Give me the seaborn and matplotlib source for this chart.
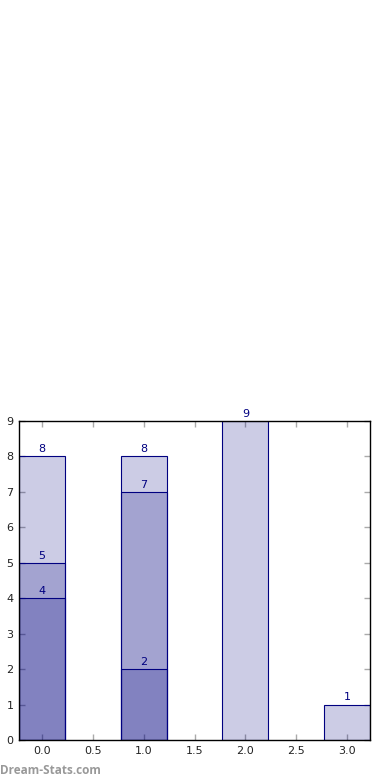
import matplotlib
matplotlib.use("Agg")
import matplotlib.pyplot as plt
import seaborn as sns
import pandas as pd

# Data
positions_a = [0, 1, 2, 3]
values_a = [8, 8, 9, 1]
positions_b = [0, 1]
values_b = [5, 7]
positions_c = [0, 1]
values_c = [4, 2]
x_ticks = [0.0, 0.5, 1.0, 1.5, 2.0, 2.5, 3.0]
y_ticks = list(range(0, 10))

sns.set_style("white")
plt.rcParams['font.family'] = ['DejaVu Sans']

fig = plt.figure(figsize=(3.9, 7.8), dpi=100)
ax = fig.add_axes([19/390, 40/780, 351/390, 319/780])

layers = [(positions_a, values_a), (positions_b, values_b), (positions_c, values_c)]
for pos, vals in layers:
    df = pd.DataFrame({"x": pos, "y": vals})
    sns.barplot(data=df, x="x", y="y", native_scale=True, width=0.45,
                color="navy", saturation=1, ax=ax, errorbar=None)
    for p_, v in zip(pos, vals):
        ax.text(p_, v + 0.06, str(v), ha="center", va="bottom", color="navy", fontsize=8)

for p in ax.patches:
    p.set_facecolor((0, 0, 0.5, 0.2))
    p.set_edgecolor("navy")
    p.set_linewidth(0.8)

ax.set_xlim(-0.225, 3.225)
ax.set_ylim(0, 9)
ax.set_xticks(x_ticks)
ax.set_xticklabels([f"{t:.1f}" for t in x_ticks])
ax.set_yticks(y_ticks)
ax.set_xlabel("")
ax.set_ylabel("")
ax.tick_params(direction="in", length=4, width=1, color="#aaaaaa",
               labelsize=8, labelcolor="#222222", top=True, right=True,
               bottom=True, left=True, pad=4)
for s in ax.spines.values():
    s.set_color("black")
    s.set_linewidth(1.0)
    s.set_visible(True)

fig.text(0.0, 1 - 770/780, "Dream-Stats.com", color="#999999", fontsize=8.5,
         fontweight="bold", family=["Open Sans", "DejaVu Sans"], ha="left", va="center")

fig.savefig("out.png", dpi=100)
